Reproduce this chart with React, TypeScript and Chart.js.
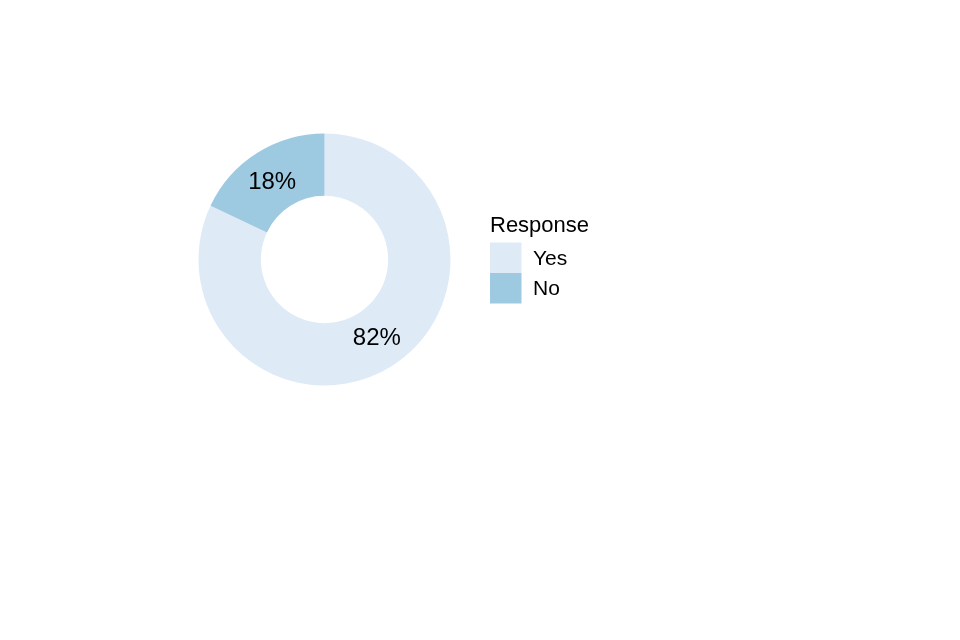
import React, { useEffect, useRef } from "react";
import { Chart, registerables } from "chart.js";

Chart.register(...registerables);

const categories = ["Yes", "No"];
const values = [82, 18];
const colors = ["#DEEBF7", "#9ECAE1"];
const legendTitle = "Response";

const FONT = "'Liberation Sans', Arial, sans-serif";

const labelPlugin = {
  id: "arcLabels",
  afterDatasetsDraw(chart: any) {
    const ctx = chart.ctx;
    const meta = chart.getDatasetMeta(0);
    const total = values.reduce((a, b) => a + b, 0);
    ctx.save();
    ctx.fillStyle = "#000";
    ctx.font = `24px ${FONT}`;
    ctx.textAlign = "center";
    ctx.textBaseline = "middle";
    meta.data.forEach((arc: any, i: number) => {
      const p = arc.getProps(["x", "y", "startAngle", "endAngle", "innerRadius", "outerRadius"], true);
      const a = (p.startAngle + p.endAngle) / 2;
      const r = (p.innerRadius + p.outerRadius) / 2;
      const pct = Math.round((values[i] / total) * 100);
      ctx.fillText(pct + "%", p.x + r * 1.03 * Math.cos(a), p.y + r * 0.97 * Math.sin(a) + 1);
    });
    ctx.restore();
  },
};

const legendPlugin = {
  id: "customLegend",
  afterDraw(chart: any) {
    const ctx = chart.ctx;
    ctx.save();
    const x0 = 490;
    ctx.fillStyle = "#000";
    ctx.font = `22px ${FONT}`;
    ctx.textAlign = "left";
    ctx.textBaseline = "alphabetic";
    ctx.fillText(legendTitle, x0, 232);
    const boxW = 31.5;
    const boxH = 30.5;
    const top = 242.5;
    categories.forEach((c, i) => {
      const y = top + i * boxH;
      ctx.fillStyle = colors[i];
      ctx.fillRect(x0, y, boxW, boxH);
      ctx.fillStyle = "#000";
      ctx.font = `21px ${FONT}`;
      ctx.textBaseline = "middle";
      ctx.fillText(c, x0 + 43, y + boxH / 2 + 1);
    });
    ctx.restore();
  },
};

export default function App() {
  const ref = useRef<HTMLCanvasElement>(null);
  useEffect(() => {
    if (!ref.current) return;
    const cx = 324.5;
    const cy = 259.5;
    const R = 126;
    const chart = new Chart(ref.current, {
      type: "doughnut",
      data: {
        labels: categories,
        datasets: [
          {
            data: values,
            backgroundColor: colors,
            borderWidth: 0,
          },
        ],
      },
      options: {
        responsive: false,
        animation: false,
        cutout: "50.5%",
        rotation: 0,
        layout: {
          padding: {
            left: cx - R,
            top: cy - R,
            right: 960 - (cx + R),
            bottom: 640 - (cy + R),
          },
        },
        plugins: {
          legend: { display: false },
          tooltip: { enabled: false },
          title: { display: false },
        },
      },
      plugins: [labelPlugin, legendPlugin],
    });
    return () => chart.destroy();
  }, []);
  return (
    <div style={{ position: "absolute", left: 0, top: 0, width: 960, height: 640, background: "#fff" }}>
      <canvas ref={ref} width={960} height={640} style={{ display: "block" }} />
    </div>
  );
}
